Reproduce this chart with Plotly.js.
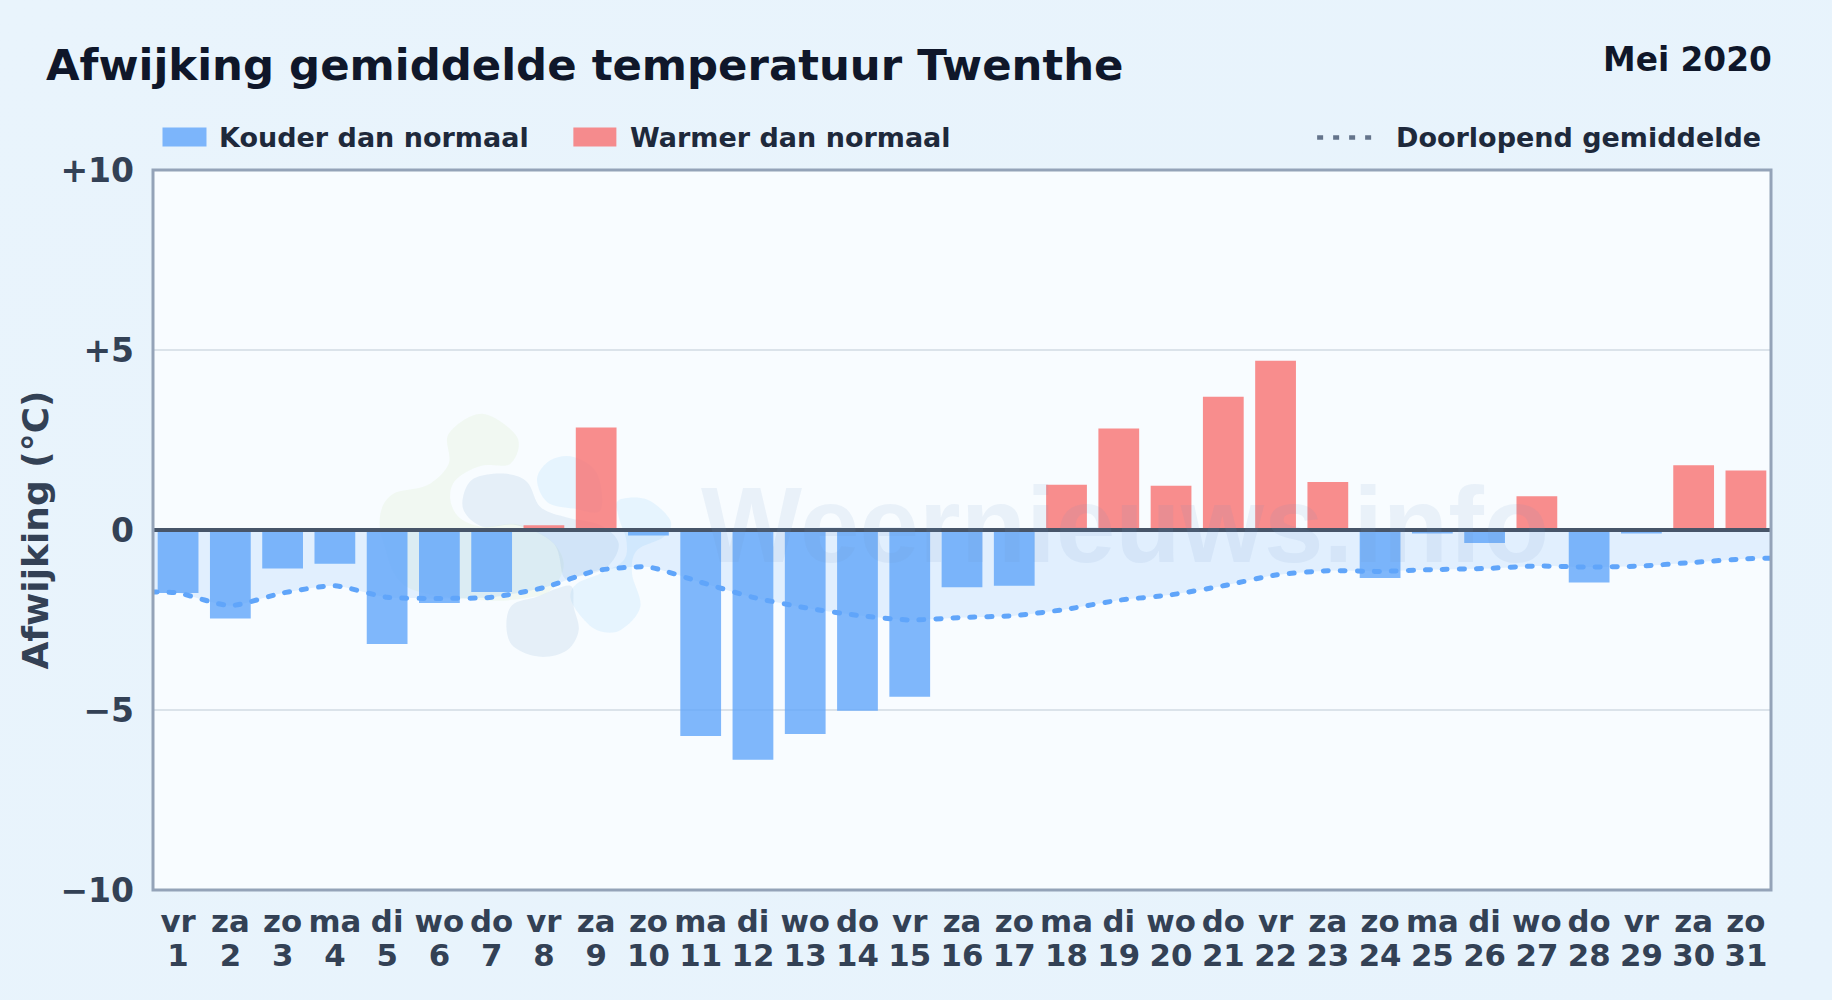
<!DOCTYPE html>
<html><head><meta charset="utf-8">
<script src="https://cdn.plot.ly/plotly-3.0.1.min.js"></script>
<style>
html,body{margin:0;padding:0;width:1832px;height:1000px;overflow:hidden;background:linear-gradient(135deg,#e9f4fc,#e7f3fc);}
#chart{width:1832px;height:1000px;}
.js-line{stroke-linecap:round;}
</style></head><body><div id="chart"></div>
<script>
const days=[1,2,3,4,5,6,7,8,9,10,11,12,13,14,15,16,17,18,19,20,21,22,23,24,25,26,27,28,29,30,31];
const weekdays=["vr","za","zo","ma","di","wo","do","vr","za","zo","ma","di","wo","do","vr","za","zo","ma","di","wo","do","vr","za","zo","ma","di","wo","do","vr","za","zo"];
const deviation=[-1.75,-2.46,-1.07,-0.94,-3.17,-2.03,-1.72,0.13,2.85,-0.15,-5.72,-6.38,-5.67,-5.02,-4.63,-1.59,-1.55,1.26,2.82,1.23,3.7,4.7,1.33,-1.33,-0.1,-0.36,0.94,-1.46,-0.1,1.8,1.65];
const averageDays=[0.5,1,2,3,4,5,6,7,8,9,10,11,12,13,14,15,16,17,18,19,20,21,22,23,24,25,26,27,28,29,30,31,31.5];
const runningAverage=[-1.72,-1.75,-2.1,-1.75,-1.55,-1.87,-1.9,-1.87,-1.6,-1.13,-1.03,-1.45,-1.87,-2.16,-2.37,-2.5,-2.43,-2.38,-2.2,-1.95,-1.8,-1.55,-1.25,-1.13,-1.15,-1.1,-1.07,-1.0,-1.03,-1.0,-0.9,-0.8,-0.78];
const yTicks=[-10,-5,0,5,10];
const yLabels=["−10","−5","0","+5","+10"];

const W=1832,H=1000,L=152.5,R=1771,T=169.5,B=890;
const px=x=>(x-L)/(R-L), py=y=>(B-y)/(B-T);
const BLUE="rgba(96,165,250,0.8)",RED="rgba(248,113,113,0.8)";
// watermark outlines: closed smooth curves through points, in zoom pixels (origin 370,400, scale 3)
function blob(pts,fill){
  const P=pts.map(p=>[370+p[0]/3,400+p[1]/3]);const n=P.length;let d="";
  for(let i=0;i<n;i++){
    const a=P[(i-1+n)%n],b=P[i],c=P[(i+1)%n],e=P[(i+2)%n];
    if(i===0)d+=`M${px(b[0])},${py(b[1])}`;
    const c1=[b[0]+(c[0]-a[0])/6,b[1]+(c[1]-a[1])/6],c2=[c[0]-(e[0]-b[0])/6,c[1]-(e[1]-b[1])/6];
    d+=`C${px(c1[0])},${py(c1[1])} ${px(c2[0])},${py(c2[1])} ${px(c[0])},${py(c[1])}`;
  }
  return {type:"path",xref:"paper",yref:"paper",path:d+"Z",fillcolor:fill,line:{width:0},layer:"below"};
}
const GREEN="rgba(205,228,175,0.16)",GREY="rgba(165,195,225,0.22)",SKY="rgba(170,220,252,0.22)";
const shapes=[
 blob([[30,340],[70,280],[170,255],[235,190],[235,100],[335,40],[440,110],[420,190],[330,197],[255,240],[240,300],[270,355],[340,380],[440,372],[540,420],[580,490],[550,560],[490,590],[340,600],[110,560],[40,430]],GREEN),
 blob([[278,290],[310,235],[400,220],[470,245],[510,320],[590,352],[690,375],[745,430],[710,500],[620,530],[580,530],[550,430],[440,375],[340,380],[285,340]],GREY),
 blob([[500,235],[540,180],[610,170],[680,220],[690,330],[610,325],[530,305]],SKY),
 blob([[745,300],[830,298],[900,360],[880,410],[800,450],[785,520],[810,620],[750,690],[680,690],[625,640],[600,590],[620,550],[690,520],[760,480],[768,420],[745,350]],SKY),
 blob([[408,680],[425,615],[500,590],[560,565],[605,560],[610,620],[625,690],[590,750],[510,770],[430,740]],GREY),
 // zero line and frame
 {type:"line",xref:"paper",yref:"y",x0:0,x1:1,y0:0,y1:0,line:{color:"#475569",width:4},layer:"above"},
 {type:"rect",xref:"paper",yref:"paper",x0:0,x1:1,y0:0,y1:1,line:{color:"#94a3b8",width:3},fillcolor:"rgba(0,0,0,0)",layer:"above"},
 // legend keys
 {type:"rect",xref:"paper",yref:"paper",x0:px(162),x1:px(206),y0:py(146),y1:py(127),fillcolor:BLUE,line:{width:0}},
 {type:"rect",xref:"paper",yref:"paper",x0:px(573),x1:px(616),y0:py(146),y1:py(127),fillcolor:RED,line:{width:0}},
 {type:"line",xref:"paper",yref:"paper",x0:px(1317),x1:px(1375),y0:py(137),y1:py(137),line:{color:"#64748b",width:4.5,dash:"6px,10px"}}
];
const F='"DejaVu Sans",sans-serif';
function label(text,x,y,size,color,anchor){
  return {text:`<b>${text}</b>`,xref:"paper",yref:"paper",x:px(x),y:py(y),xanchor:anchor,yanchor:"middle",showarrow:false,font:{family:F,size:size,color:color}};
}
const annotations=[
 {text:"<b>Weernieuws.info</b>",xref:"paper",yref:"paper",x:px(1125),y:py(525),xanchor:"center",yanchor:"middle",showarrow:false,font:{family:'"Liberation Sans",sans-serif',size:107,color:"rgba(110,150,200,0.10)"}},
 label("Mei 2020",1774,59,32.8,"#0f172a","right"),
 label("Kouder dan normaal",217,137,27,"#1e293b","left"),
 label("Warmer dan normaal",628,137,27,"#1e293b","left"),
 label("Doorlopend gemiddelde",1763,137,27,"#1e293b","right")
];
const xRange=[0.52,31.48];
const traces=[
 {type:"bar",x:days,y:deviation,width:0.78,marker:{color:deviation.map(v=>v<0?BLUE:RED),line:{width:0}},hoverinfo:"x+y",showlegend:false},
 {type:"scatter",mode:"lines",x:averageDays,y:runningAverage,fill:"tozeroy",fillcolor:"rgba(96,165,250,0.15)",line:{color:"#60a5fa",width:5,dash:"5px,12px",shape:"spline",smoothing:0.6},hoverinfo:"skip",showlegend:false},
 {type:"scatter",mode:"lines",x:days,y:deviation,xaxis:"x2",opacity:0,line:{width:0},hoverinfo:"skip",showlegend:false}
];
const layout={
 width:W,height:H,autosize:false,showlegend:false,
 margin:{l:L,r:W-R,t:T,b:H-B,pad:0},
 paper_bgcolor:"rgba(0,0,0,0)",plot_bgcolor:"#f8fcff",
 font:{family:F},
 title:{text:"<b>Afwijking gemiddelde temperatuur Twenthe</b>",x:46/W,xanchor:"left",xref:"container",y:1-65/H,yanchor:"middle",yref:"container",font:{family:F,size:43.4,color:"#0f172a"}},
 xaxis:{range:xRange,tickmode:"array",tickvals:days,ticktext:weekdays.map(t=>`<b>${t}</b>`),tickangle:0,ticks:"",showgrid:false,zeroline:false,showline:false,tickfont:{family:F,size:30.8,color:"#334155"},ticklabelstandoff:10,automargin:false},
 xaxis2:{overlaying:"x",side:"bottom",anchor:"y",range:xRange,tickmode:"array",tickvals:days,ticktext:days.map(d=>`<b>${d}</b>`),tickangle:0,ticks:"",showgrid:false,zeroline:false,showline:false,tickfont:{family:F,size:30.8,color:"#334155"},ticklabelstandoff:44,automargin:false},
 yaxis:{range:[-10,10],tickmode:"array",tickvals:yTicks,ticktext:yLabels.map(t=>`<b>${t}</b>`),ticks:"",showgrid:true,gridcolor:"#dbe3ea",gridwidth:1.5,zeroline:false,showline:false,tickfont:{family:F,size:33,color:"#334155"},ticklabelstandoff:18,automargin:false,
  title:{text:"<b>Afwijking (°C)</b>",standoff:0,font:{family:F,size:36,color:"#334155"}}},
 shapes:shapes,annotations:annotations,bargap:0.22
};
Plotly.newPlot("chart",traces,layout,{displayModeBar:false,staticPlot:true});
</script></body></html>
